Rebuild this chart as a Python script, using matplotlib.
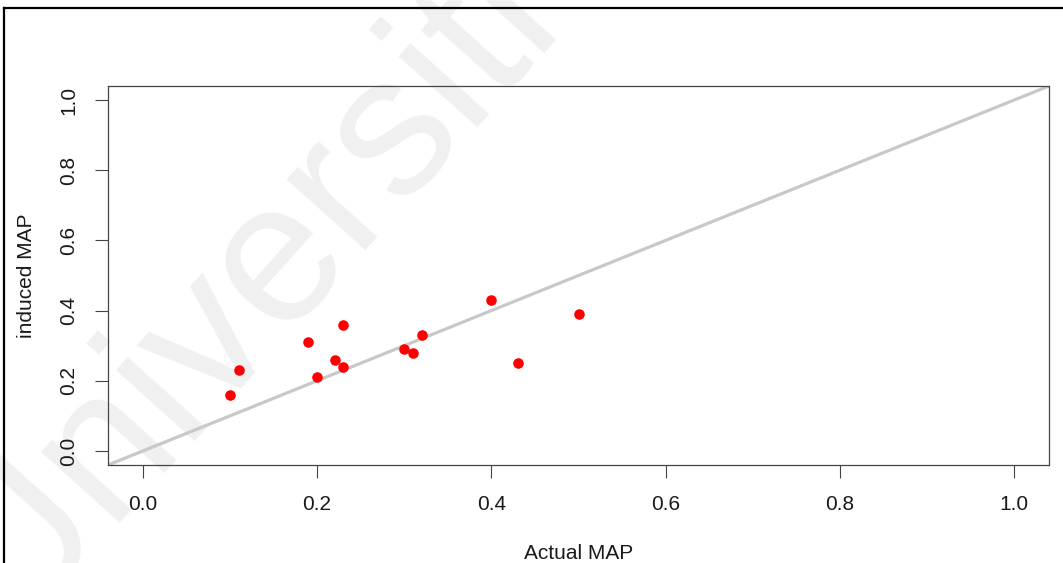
import matplotlib
matplotlib.use("Agg")
import matplotlib.pyplot as plt
from matplotlib.lines import Line2D

plt.rcParams['font.family'] = ['Liberation Sans', 'DejaVu Sans']

# Mean average precision per query: actual vs. induced
actual_map = [0.10, 0.11, 0.19, 0.20, 0.22, 0.23, 0.23, 0.30, 0.31, 0.32, 0.40, 0.43, 0.50]
induced_map = [0.16, 0.23, 0.31, 0.21, 0.26, 0.24, 0.36, 0.29, 0.28, 0.33, 0.43, 0.25, 0.39]

tick_values = [0.0, 0.2, 0.4, 0.6, 0.8, 1.0]
tick_labels = ["0.0", "0.2", "0.4", "0.6", "0.8", "1.0"]

W, H = 1063, 563
fig = plt.figure(figsize=(W / 100, H / 100), dpi=100)
fig.patch.set_facecolor("white")

# faint repository watermark, kept behind the axes
fig.text(15 / W, 1 - 640 / H, "Universiti Malaya", fontsize=144, color="#f0f0f0",
         rotation=48, rotation_mode="anchor", ha="left", va="baseline", zorder=-10)

# outer frame (top and left edges)
fig.add_artist(Line2D([4 / W, 4 / W], [0, 1 - 8 / H], color="black", lw=1.6,
                      transform=fig.transFigure))
fig.add_artist(Line2D([4 / W, 1.0], [1 - 8 / H, 1 - 8 / H], color="black", lw=1.6,
                      transform=fig.transFigure))

ax = fig.add_axes([108 / W, 1 - 465 / H, (1049 - 108) / W, (465 - 86) / H])
ax.patch.set_visible(False)
ax.set_zorder(1)

ax.axline((0, 0), (1, 1), color="#c8c8c8", lw=2.3, zorder=2)
ax.plot(actual_map, induced_map, "o", color="#ff0000", markersize=7.6,
        markeredgewidth=0, zorder=3)

ax.set_xlim(-0.04, 1.04)
ax.set_ylim(-0.04, 1.04)
ax.set_xticks(tick_values)
ax.set_xticklabels(tick_labels)
ax.set_yticks(tick_values)
ax.set_yticklabels(tick_labels, rotation=90, va="center")

for s in ax.spines.values():
    s.set_color("#444444")
    s.set_linewidth(0.9)

ax.tick_params(axis="both", direction="out", length=9.5, width=0.8, color="#444444",
               labelsize=15, labelcolor="#1a1a1a", pad=12)

ax.set_xlabel("Actual MAP", fontsize=15, color="#1a1a1a", labelpad=22)
ax.set_ylabel("induced MAP", fontsize=15, color="#1a1a1a", labelpad=17)

fig.savefig("out.png", dpi=100, facecolor="white")
